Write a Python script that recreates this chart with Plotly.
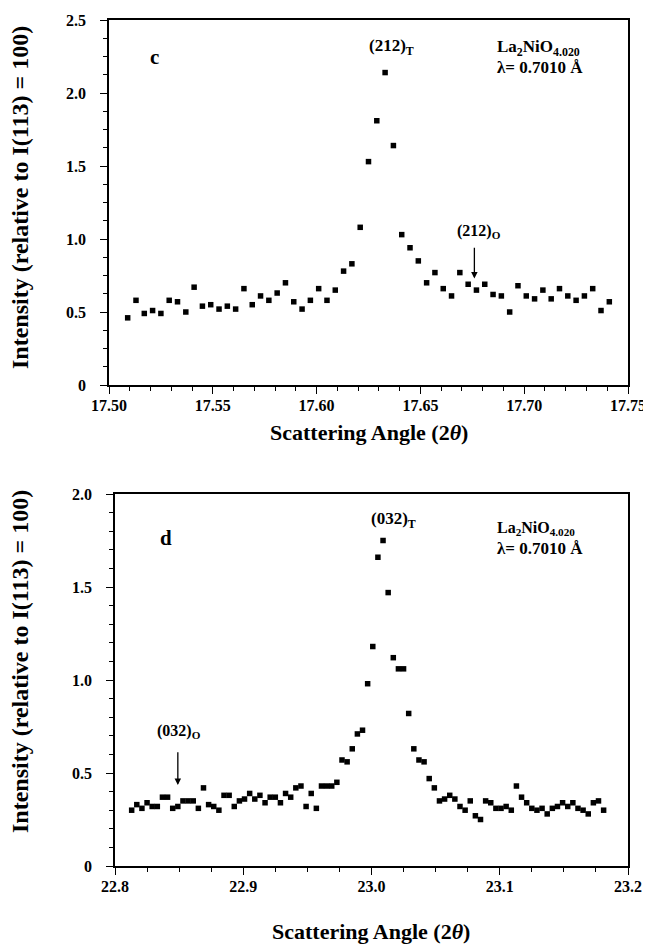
import plotly.graph_objects as go

# ---------------- data: panel c (212) reflection ----------------
angle_c = [17.509, 17.513, 17.517, 17.521, 17.525, 17.529, 17.533, 17.537, 17.541, 17.545,
           17.549, 17.553, 17.557, 17.561, 17.565, 17.569, 17.573, 17.577, 17.581, 17.585,
           17.589, 17.593, 17.597, 17.601, 17.605, 17.609, 17.613, 17.617, 17.621, 17.625,
           17.629, 17.633, 17.637, 17.641, 17.645, 17.649, 17.653, 17.657, 17.661, 17.665,
           17.669, 17.673, 17.677, 17.681, 17.685, 17.689, 17.693, 17.697, 17.701, 17.705,
           17.709, 17.713, 17.717, 17.721, 17.725, 17.729, 17.733, 17.737, 17.741]
intensity_c = [0.46, 0.58, 0.49, 0.51, 0.49, 0.58, 0.57, 0.50, 0.67, 0.54,
               0.55, 0.52, 0.54, 0.52, 0.66, 0.55, 0.61, 0.58, 0.63, 0.70,
               0.57, 0.52, 0.58, 0.66, 0.58, 0.65, 0.78, 0.83, 1.08, 1.53,
               1.81, 2.14, 1.64, 1.03, 0.94, 0.85, 0.70, 0.77, 0.66, 0.61,
               0.77, 0.69, 0.65, 0.69, 0.62, 0.61, 0.50, 0.68, 0.61, 0.59,
               0.65, 0.59, 0.66, 0.61, 0.58, 0.61, 0.66, 0.51, 0.57]

# ---------------- data: panel d (032) reflection ----------------
angle_d = [22.813, 22.817, 22.821, 22.825, 22.829, 22.833, 22.837, 22.841, 22.845, 22.849,
           22.853, 22.857, 22.861, 22.865, 22.869, 22.873, 22.877, 22.881, 22.885, 22.889,
           22.893, 22.897, 22.901, 22.905, 22.909, 22.913, 22.917, 22.921, 22.925, 22.929,
           22.933, 22.937, 22.941, 22.945, 22.949, 22.953, 22.957, 22.961, 22.965, 22.969,
           22.973, 22.977, 22.981, 22.985, 22.989, 22.993, 22.997, 23.001, 23.005, 23.009,
           23.013, 23.017, 23.021, 23.025, 23.029, 23.033, 23.037, 23.041, 23.045, 23.049,
           23.053, 23.057, 23.061, 23.065, 23.069, 23.073, 23.077, 23.081, 23.085, 23.089,
           23.093, 23.097, 23.101, 23.105, 23.109, 23.113, 23.117, 23.121, 23.125, 23.129,
           23.133, 23.137, 23.141, 23.145, 23.149, 23.153, 23.157, 23.161, 23.165, 23.169,
           23.173, 23.177, 23.181]
intensity_d = [0.30, 0.33, 0.31, 0.34, 0.32, 0.32, 0.37, 0.37, 0.31, 0.32,
               0.35, 0.35, 0.35, 0.31, 0.42, 0.33, 0.32, 0.30, 0.38, 0.38,
               0.32, 0.35, 0.36, 0.39, 0.36, 0.38, 0.34, 0.37, 0.37, 0.34,
               0.39, 0.37, 0.42, 0.43, 0.32, 0.39, 0.31, 0.43, 0.43, 0.43,
               0.45, 0.57, 0.56, 0.63, 0.71, 0.73, 0.98, 1.18, 1.66, 1.75,
               1.47, 1.12, 1.06, 1.06, 0.82, 0.63, 0.57, 0.56, 0.47, 0.42,
               0.35, 0.36, 0.38, 0.36, 0.32, 0.30, 0.35, 0.27, 0.25, 0.35,
               0.34, 0.31, 0.31, 0.32, 0.30, 0.43, 0.37, 0.34, 0.31, 0.30,
               0.31, 0.28, 0.31, 0.32, 0.34, 0.32, 0.34, 0.31, 0.30, 0.28,
               0.34, 0.35, 0.30]

# ---------------- tick labels ----------------
xticks_c = [17.50, 17.55, 17.60, 17.65, 17.70, 17.75]
xticktext_c = ["17.50", "17.55", "17.60", "17.65", "17.70", "17.75"]
yticks_c = [0, 0.5, 1.0, 1.5, 2.0, 2.5]
yticktext_c = ["0", "0.5", "1.0", "1.5", "2.0", "2.5"]
xticks_d = [22.8, 22.9, 23.0, 23.1, 23.2]
xticktext_d = ["22.8", "22.9", "23.0", "23.1", "23.2"]
yticks_d = [0, 0.5, 1.0, 1.5, 2.0]
yticktext_d = ["0", "0.5", "1.0", "1.5", "2.0"]

FONT = "Liberation Serif, Times New Roman, serif"
W, H = 643, 938          # page body has an 8 px margin
OFF = 8


def px(xp):
    return (xp - OFF) / W


def py(yp):
    return 1 - (yp - OFF) / H


fig = go.Figure()
marker = dict(symbol="square", size=5.5, color="black", line=dict(width=0))
fig.add_trace(go.Scatter(x=angle_c, y=intensity_c, mode="markers", marker=marker,
                         xaxis="x", yaxis="y", showlegend=False))
fig.add_trace(go.Scatter(x=angle_d, y=intensity_d, mode="markers", marker=marker,
                         xaxis="x2", yaxis="y2", showlegend=False))

tickfont = dict(family=FONT, size=16, color="black", weight="bold")
common = dict(showgrid=False, zeroline=False, showline=True, linecolor="black",
              linewidth=1.6, mirror=True, ticks="outside", ticklen=7, tickwidth=1.3,
              tickcolor="black", tickfont=tickfont, automargin=False)

fig.update_layout(
    width=W, height=H, autosize=False,
    margin=dict(l=0, r=0, t=0, b=0, pad=0),
    paper_bgcolor="white", plot_bgcolor="white",
    xaxis=dict(domain=[px(109), px(628)], range=[17.50, 17.75], anchor="y",
               tickvals=xticks_c, ticktext=xticktext_c, ticklabelstandoff=-2,
               minor=dict(dtick=0.01, ticklen=4, tickwidth=1.1, ticks="outside", tickcolor="black"),
               **common),
    yaxis=dict(domain=[py(385), py(20)], range=[0, 2.5], anchor="x",
               tickvals=yticks_c, ticktext=yticktext_c, ticklabelstandoff=11,
               minor=dict(dtick=0.125, ticklen=4, tickwidth=1.1, ticks="outside", tickcolor="black"),
               **common),
    xaxis2=dict(domain=[px(115), px(628)], range=[22.8, 23.2], anchor="y2",
                tickvals=xticks_d, ticktext=xticktext_d, ticklabelstandoff=-2,
                minor=dict(dtick=0.025, ticklen=4, tickwidth=1.1, ticks="outside", tickcolor="black"),
                **common),
    yaxis2=dict(domain=[py(866), py(494)], range=[0, 2.0], anchor="x2",
                tickvals=yticks_d, ticktext=yticktext_d, ticklabelstandoff=11,
                minor=dict(dtick=0.1, ticklen=4, tickwidth=1.1, ticks="outside", tickcolor="black"),
                **common),
)


def txt(x, y, text, xref, yref, size=14, xanchor="center", yanchor="middle", **kw):
    fig.add_annotation(x=x, y=y, xref=xref, yref=yref, text=text, showarrow=False,
                       xanchor=xanchor, yanchor=yanchor,
                       font=dict(family=FONT, size=size, color="black", weight="bold"), **kw)


# panel c annotations
txt(17.522, 2.247, "c", "x", "y", size=21)
txt(17.636, 2.315, "(212)<sub>T</sub>", "x", "y", size=17)
txt(17.686, 2.308, "La<sub>2</sub>NiO<sub>4.020</sub>", "x", "y", size=17, xanchor="left")
txt(17.686, 2.172, "λ= 0.7010 Å", "x", "y", size=17, xanchor="left")
txt(17.678, 1.05, "(212)<sub>O</sub>", "x", "y", size=16)
fig.add_annotation(x=17.676, y=0.73, ax=17.676, ay=0.95, xref="x", yref="y", axref="x", ayref="y",
                   showarrow=True, arrowhead=2, arrowsize=1, arrowwidth=1.3, arrowcolor="black", text="")

# panel d annotations
txt(22.840, 1.763, "d", "x2", "y2", size=21)
txt(23.0175, 1.86, "(032)<sub>T</sub>", "x2", "y2", size=17)
txt(23.096, 1.812, "La<sub>2</sub>NiO<sub>4.020</sub>", "x2", "y2", size=16, xanchor="left")
txt(23.096, 1.708, "λ= 0.7010 Å", "x2", "y2", size=17, xanchor="left")
txt(22.850, 0.725, "(032)<sub>O</sub>", "x2", "y2", size=16)
fig.add_annotation(x=22.849, y=0.435, ax=22.849, ay=0.62, xref="x2", yref="y2", axref="x2", ayref="y2",
                   showarrow=True, arrowhead=2, arrowsize=1, arrowwidth=1.3, arrowcolor="black", text="")

# axis titles
xtitle = "Scattering Angle (2<i>θ</i>)"
ytitle = "Intensity (relative to I(113) = 100)"
txt(px(369), py(432), xtitle, "paper", "paper", size=22)
txt(px(371), py(931), xtitle, "paper", "paper", size=22)
txt(px(20), py(198), ytitle, "paper", "paper", size=24, textangle=-90)
txt(px(20), py(662), ytitle, "paper", "paper", size=24, textangle=-90)

fig.write_html("out.html")
